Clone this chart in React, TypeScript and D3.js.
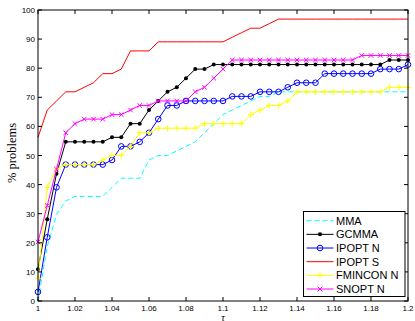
import React from "react";
import * as d3 from "d3";

const tau = [1, 1.005, 1.01, 1.015, 1.02, 1.025, 1.03, 1.035, 1.04, 1.045, 1.05, 1.055, 1.06, 1.065, 1.07, 1.075, 1.08, 1.085, 1.09, 1.095, 1.1, 1.105, 1.11, 1.115, 1.12, 1.125, 1.13, 1.135, 1.14, 1.145, 1.15, 1.155, 1.16, 1.165, 1.17, 1.175, 1.18, 1.185, 1.19, 1.195, 1.2];

const mma = [0, 18.75, 29.69, 34.38, 35.94, 35.94, 35.94, 35.94, 39.06, 42.19, 42.19, 42.19, 48.44, 50, 50, 51.56, 53.13, 54.69, 57.81, 60.94, 64.06, 65.63, 67.19, 68.75, 70.31, 70.31, 71.88, 71.88, 71.88, 71.88, 71.88, 71.88, 71.88, 71.88, 71.88, 71.88, 71.88, 71.88, 71.88, 71.88, 71.88];
const gcmma = [10.94, 28.13, 43.75, 54.69, 54.69, 54.69, 54.69, 54.69, 56.25, 56.25, 60.94, 60.94, 65.63, 68.75, 71.88, 73.44, 76.56, 79.69, 79.69, 81.25, 81.25, 81.25, 81.25, 81.25, 81.25, 81.25, 81.25, 81.25, 81.25, 81.25, 81.25, 81.25, 81.25, 81.25, 81.25, 81.25, 81.25, 81.25, 82.81, 82.81, 82.81];
const ipoptN = [3.13, 21.88, 39.06, 46.88, 46.88, 46.88, 46.88, 46.88, 48.44, 53.13, 53.13, 54.69, 57.81, 62.5, 67.19, 67.19, 68.75, 68.75, 68.75, 68.75, 68.75, 70.31, 70.31, 70.31, 71.88, 71.88, 71.88, 73.44, 75, 75, 75, 78.13, 78.13, 78.13, 78.13, 78.13, 78.13, 79.69, 79.69, 79.69, 81.25];
const ipoptS = [56.25, 65.63, 68.75, 71.88, 71.88, 73.44, 75, 78.13, 78.13, 79.69, 85.94, 85.94, 85.94, 89.06, 89.06, 89.06, 89.06, 89.06, 89.06, 89.06, 89.06, 90.63, 92.19, 93.75, 93.75, 95.31, 96.88, 96.88, 96.88, 96.88, 96.88, 96.88, 96.88, 96.88, 96.88, 96.88, 96.88, 96.88, 96.88, 96.88, 96.88];
const fminconN = [7.81, 39.06, 45.31, 46.88, 46.88, 46.88, 46.88, 48.44, 50, 50, 53.13, 57.81, 57.81, 59.38, 59.38, 59.38, 59.38, 59.38, 60.94, 60.94, 60.94, 60.94, 60.94, 64.06, 65.63, 67.19, 67.19, 68.75, 71.88, 71.88, 71.88, 71.88, 71.88, 71.88, 71.88, 71.88, 71.88, 71.88, 73.44, 73.44, 73.44];
const snoptN = [20.31, 32.81, 45.31, 57.81, 60.94, 62.5, 62.5, 62.5, 64.06, 64.06, 65.63, 67.19, 67.19, 68.75, 68.75, 68.75, 68.75, 71.88, 73.44, 76.56, 79.69, 82.81, 82.81, 82.81, 82.81, 82.81, 82.81, 82.81, 82.81, 82.81, 82.81, 82.81, 82.81, 82.81, 82.81, 84.38, 84.38, 84.38, 84.38, 84.38, 84.38];

const seriesNames = ["MMA", "GCMMA", "IPOPT N", "IPOPT S", "FMINCON N", "SNOPT N"];
const seriesValues = [mma, gcmma, ipoptN, ipoptS, fminconN, snoptN];
const seriesColors = ["#00ffff", "#000000", "#0000ff", "#ff0000", "#ffff00", "#ff00ff"];
const seriesMarkers = ["none", "dot", "circle", "none", "plus", "cross"];

const xTicks = [1, 1.02, 1.04, 1.06, 1.08, 1.1, 1.12, 1.14, 1.16, 1.18, 1.2];
const xTickLabels = ["1", "1.02", "1.04", "1.06", "1.08", "1.1", "1.12", "1.14", "1.16", "1.18", "1.2"];
const yTicks = [0, 10, 20, 30, 40, 50, 60, 70, 80, 90, 100];

const L = 38, R = 408, T = 10, B = 301;
const sans = "Arial, 'Liberation Sans', Helvetica, sans-serif";
const serif = "'Times New Roman', 'Liberation Serif', serif";

function Marker({ type, x, y, color }: { type: string; x: number; y: number; color: string }) {
  if (type === "dot") return <circle cx={x} cy={y} r={2} fill={color} />;
  if (type === "circle") return <circle cx={x} cy={y} r={2.8} fill="none" stroke={color} strokeWidth={1} />;
  if (type === "plus")
    return <path d={`M${x - 3},${y}H${x + 3}M${x},${y - 3}V${y + 3}`} stroke={color} strokeWidth={1} />;
  if (type === "cross")
    return <path d={`M${x - 2.3},${y - 2.3}L${x + 2.3},${y + 2.3}M${x - 2.3},${y + 2.3}L${x + 2.3},${y - 2.3}`} stroke={color} strokeWidth={1} />;
  return null;
}

export default function App() {
  const x = d3.scaleLinear().domain([1, 1.2]).range([L, R]);
  const y = d3.scaleLinear().domain([0, 100]).range([B, T]);
  const line = d3.line<number>().x((_, i) => x(tau[i])).y((d) => y(d));

  const legX = 303.5, legY = 211.5, legW = 101.5, legH = 85;
  return (
    <svg width={415} height={321} style={{ position: "absolute", left: 0, top: 0 }}>
      <rect x={0} y={0} width={415} height={321} fill="#fff" />
      <rect x={L} y={T} width={R - L} height={B - T} fill="#fff" />
      {seriesValues.map((vals, s) => (
        <g key={seriesNames[s]}>
          <path d={line(vals) || ""} fill="none" stroke={seriesColors[s]} strokeWidth={1}
            strokeDasharray={s === 0 ? "5,3" : undefined} />
          {seriesMarkers[s] !== "none" &&
            vals.map((v, i) => <Marker key={i} type={seriesMarkers[s]} x={x(tau[i])} y={y(v)} color={seriesColors[s]} />)}
        </g>
      ))}
      <rect x={L} y={T} width={R - L} height={B - T} fill="none" stroke="#000" strokeWidth={1} />
      {xTicks.map((t, i) => (
        <g key={"xt" + i}>
          <line x1={x(t)} x2={x(t)} y1={B} y2={B - 4} stroke="#000" />
          <line x1={x(t)} x2={x(t)} y1={T} y2={T + 4} stroke="#000" />
          <text x={x(t)} y={310.5} fontSize={8} fontFamily={sans} textAnchor="middle">{xTickLabels[i]}</text>
        </g>
      ))}
      {yTicks.map((t, i) => (
        <g key={"yt" + i}>
          <line x1={L} x2={L + 4} y1={y(t)} y2={y(t)} stroke="#000" />
          <line x1={R} x2={R - 4} y1={y(t)} y2={y(t)} stroke="#000" />
          <text x={35} y={y(t) + 3} fontSize={8} fontFamily={sans} textAnchor="end">{String(t)}</text>
        </g>
      ))}
      <text transform="translate(16,153) rotate(-90)" fontSize={12.5} fontFamily={serif} textAnchor="middle">% problems</text>
      <text x={223} y={320.5} fontSize={10} fontFamily={serif} fontStyle="italic" textAnchor="middle">τ</text>
      <rect x={legX} y={legY} width={legW} height={legH} fill="#fff" stroke="#000" strokeWidth={1} />
      {seriesNames.map((n, s) => {
        const cy = 220.7 + s * 13.66;
        return (
          <g key={"lg" + s}>
            <line x1={306.5} x2={333.5} y1={cy} y2={cy} stroke={seriesColors[s]} strokeWidth={1}
              strokeDasharray={s === 0 ? "5,3" : undefined} />
            <Marker type={seriesMarkers[s]} x={320} y={cy} color={seriesColors[s]} />
            <text x={336} y={cy + 4} fontSize={11} fontFamily={sans}>{n}</text>
          </g>
        );
      })}
    </svg>
  );
}
